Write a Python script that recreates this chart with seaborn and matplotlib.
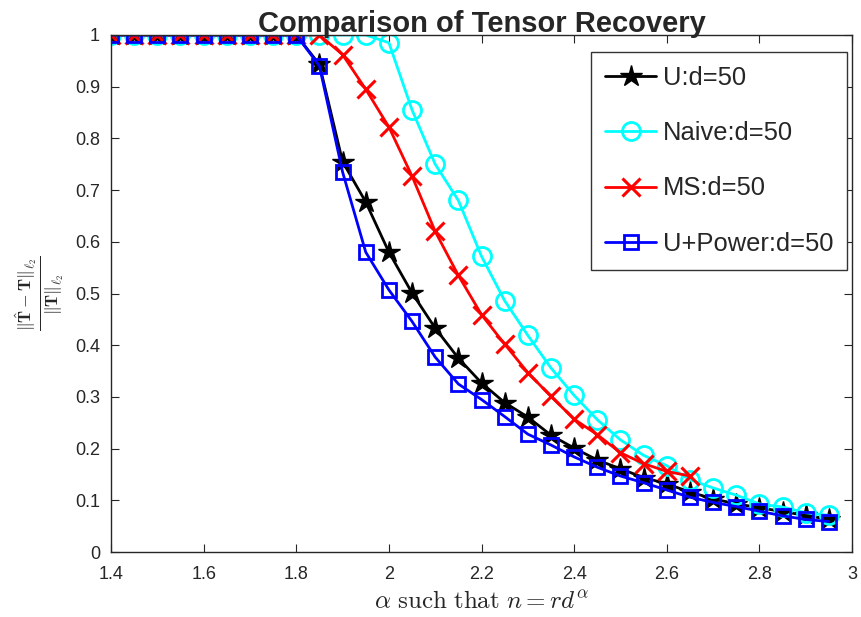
import numpy as np
import pandas as pd
import matplotlib
matplotlib.use("Agg")
import matplotlib.pyplot as plt
import seaborn as sns
from matplotlib.ticker import FuncFormatter

# alpha grid, 1.4 .. 2.95 in steps of 0.05
alpha = [1.40, 1.45, 1.50, 1.55, 1.60, 1.65, 1.70, 1.75, 1.80, 1.85,
         1.90, 1.95, 2.00, 2.05, 2.10, 2.15, 2.20, 2.25, 2.30, 2.35,
         2.40, 2.45, 2.50, 2.55, 2.60, 2.65, 2.70, 2.75, 2.80, 2.85,
         2.90, 2.95]

err_u = [1, 1, 1, 1, 1, 1, 1, 1, 1, 0.943,
         0.755, 0.677, 0.580, 0.501, 0.433, 0.375, 0.327, 0.289, 0.261, 0.226,
         0.201, 0.178, 0.161, 0.144, 0.132, 0.116, 0.103, 0.093, 0.086, 0.078,
         0.071, 0.063]

err_naive = [1, 1, 1, 1, 1, 1, 1, 1, 1, 1,
             1.0, 1.0, 0.985, 0.855, 0.750, 0.680, 0.572, 0.486, 0.419, 0.356,
             0.303, 0.256, 0.217, 0.187, 0.167, 0.140, 0.124, 0.110, 0.093, 0.087,
             0.076, 0.071]

# MS stops at 2.65
alpha_ms = alpha[:26]
err_ms = [1, 1, 1, 1, 1, 1, 1, 1, 1, 1,
          0.962, 0.895, 0.822, 0.727, 0.620, 0.535, 0.459, 0.402, 0.347, 0.301,
          0.257, 0.227, 0.192, 0.171, 0.156, 0.147]

err_power = [1, 1, 1, 1, 1, 1, 1, 1, 1, 0.940,
             0.735, 0.580, 0.507, 0.446, 0.377, 0.325, 0.295, 0.262, 0.228, 0.207,
             0.184, 0.164, 0.147, 0.134, 0.120, 0.106, 0.096, 0.088, 0.079, 0.070,
             0.063, 0.059]

sns.set_style("ticks")
plt.rcParams['font.family'] = ['Liberation Sans', 'DejaVu Sans']
plt.rcParams['mathtext.fontset'] = 'cm'

fig = plt.figure(figsize=(8.62, 6.17), dpi=100)
ax = fig.add_axes([0.1288, 0.1053, 0.8596, 0.8380])

sns.lineplot(x=alpha, y=err_u, ax=ax, color='black', lw=2, marker='*',
             markersize=16, markerfacecolor='black', markeredgecolor='black',
             markeredgewidth=1, label='U:d=50')
sns.lineplot(x=alpha, y=err_naive, ax=ax, color='cyan', lw=2, marker='o',
             markersize=13, markerfacecolor='none', markeredgecolor='cyan',
             markeredgewidth=2, label='Naive:d=50')
sns.lineplot(x=alpha_ms, y=err_ms, ax=ax, color='red', lw=2, marker='x',
             markersize=13, markeredgecolor='red', markeredgewidth=2.2,
             label='MS:d=50')
sns.lineplot(x=alpha, y=err_power, ax=ax, color='blue', lw=2, marker='s',
             markersize=10, markerfacecolor='none', markeredgecolor='blue',
             markeredgewidth=2, label='U+Power:d=50')

ax.set_xlim(1.4, 3)
ax.set_ylim(0, 1)
ax.set_xticks(np.arange(1.4, 3.01, 0.2))
ax.set_yticks(np.arange(0, 1.01, 0.1))
fmt = FuncFormatter(lambda v, p: '%g' % round(v, 2))
ax.xaxis.set_major_formatter(fmt)
ax.yaxis.set_major_formatter(fmt)
ax.tick_params(direction='in', top=True, right=True, labelsize=13, length=6)
ax.tick_params(axis='x', pad=10)
ax.tick_params(axis='y', pad=8)
for s in ax.spines.values():
    s.set_linewidth(1.0)
    s.set_visible(True)

ax.set_title('Comparison of Tensor Recovery', fontsize=21, fontweight='bold', pad=2)
ax.set_xlabel(r'$\alpha\ \mathrm{such\ that}\ n=rd^{\alpha}$', fontsize=18, labelpad=5)
ax.set_ylabel(r'$\frac{\|\hat{\mathbf{T}}-\mathbf{T}\|_{\ell_2}}{\|\mathbf{T}\|_{\ell_2}}$',
              fontsize=18, labelpad=6)

leg = ax.legend(loc='upper right', bbox_to_anchor=(0.9935, 0.967), fontsize=18.4,
                labelspacing=1.22, handlelength=2.0, handletextpad=0.25,
                borderpad=0.55, borderaxespad=0, fancybox=False, framealpha=1)
leg.get_frame().set_edgecolor('#333333')
leg.get_frame().set_linewidth(1.0)

fig.savefig('out.png', dpi=100)
